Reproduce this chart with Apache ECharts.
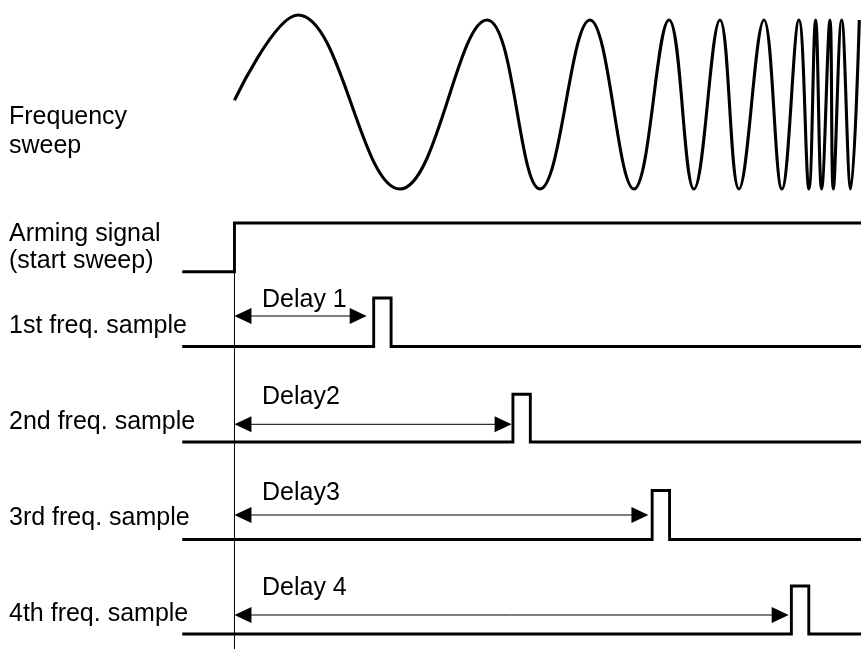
<!DOCTYPE html>
<html><head><meta charset="utf-8">
<script src="https://cdn.jsdelivr.net/npm/echarts@6/dist/echarts.min.js"></script>
<style>html,body{margin:0;padding:0;background:#fff}#c{width:861px;height:649px}</style>
</head><body><div id="c"></div><script>
// ---------------- data (time units: Delay 1 = 10) ----------------
const sweepTimes  = [0, 4.56, 11.89, 18.14, 21.94, 25.53, 28.69, 31.21, 33.0, 34.87, 36.23, 38.03, 39.32, 40.54, 41.26, 41.74, 42.17, 42.77, 43.01, 43.61, 44.26, 44.88];
const sweepLevels = [0.05, 1.06, -1.0, 1.0, -1.0, 1.0, -1.0, 1.0, -1.0, 1.0, -1.0, 1.0, -1.0, 1.0, -1.0, 1.0, -1.0, 1.0, -1.0, 1.0, -1.0, 1.0];
const traceStart = -3.75;
const traceEnd = 45;
const armTime = 0;
const delayTimes = [10, 20, 30, 40];
const pulseWidth = 1.25;
const signalLabels = ['Frequency', 'sweep', 'Arming signal', '(start sweep)', '1st freq. sample', '2nd freq. sample', '3rd freq. sample', '4th freq. sample'];
const delayLabels = ['Delay 1', 'Delay2', 'Delay3', 'Delay 4'];

// ---------------- layout ----------------
const X_MIN = -16.84, X_MAX = 45;
const FONT_FAMILY = 'Liberation Sans, Arial, Helvetica, sans-serif';
const FS = 25;
const MID = 5.5; // baseline -> em-middle offset
const sweepGrid = {top: 20, height: 169};
const armGrid = {top: 223, height: 48.7};
const rowGrids = [{top: 298, height: 48.5}, {top: 394.3, height: 47.7}, {top: 490.5, height: 49}, {top: 586, height: 48}];
const vGrid = {top: 271.7, height: 377.3};
const labelBaselines = [123, 152, 240, 267, 332, 428, 524, 620];
const arrowRise = [30.5, 17.7, 24.5, 19];
const arrowGap = [7, 1.3, 3.7, 2.7];
const delayLabelRise = [40.5, 39.2, 41.3, 40.2];
const delayLabelDx = 27.5;
const HEAD_L = 17, HEAD_W = 8;

const chart = echarts.init(document.getElementById('c'), null, {renderer: 'canvas'});

const grids = [sweepGrid, armGrid].concat(rowGrids).concat([vGrid]).map(g => ({left: 0, right: 0, top: g.top, height: g.height}));
const xAxes = grids.map((g, i) => ({type: 'value', gridIndex: i, min: X_MIN, max: X_MAX, show: false}));
const yAxes = grids.map((g, i) => i === 0 ? {type: 'value', gridIndex: i, min: -1, max: 1, show: false}
                                          : {type: 'value', gridIndex: i, min: 0, max: 1, show: false});

const thick = {color: '#000', width: 2.9, join: 'miter', cap: 'butt'};
const series = [];
series.push({
  type: 'line', xAxisIndex: 0, yAxisIndex: 0, smooth: 0.4, symbol: 'none', silent: true, clip: false,
  data: sweepTimes.map((t, i) => [t, sweepLevels[i]]),
  lineStyle: {color: '#000', width: 3.1}
});
series.push({
  type: 'line', xAxisIndex: 1, yAxisIndex: 1, step: 'end', symbol: 'none', silent: true, clip: false,
  data: [[traceStart, 0], [armTime, 1], [traceEnd, 1]],
  lineStyle: thick
});
delayTimes.forEach((d, i) => {
  series.push({
    type: 'line', xAxisIndex: 2 + i, yAxisIndex: 2 + i, step: 'end', symbol: 'none', silent: true, clip: false,
    data: [[traceStart, 0], [armTime + d, 1], [armTime + d + pulseWidth, 0], [traceEnd, 0]],
    lineStyle: thick
  });
  series.push({
    type: 'custom', xAxisIndex: 2 + i, yAxisIndex: 2 + i, silent: true, clip: false,
    data: [[armTime, armTime + d]],
    renderItem: function (params, api) {
      const p0 = api.coord([api.value(0), 0]);
      const p1 = api.coord([api.value(1), 0]);
      const y = p0[1] - arrowRise[i];
      const xa = p0[0], xb = p1[0] - arrowGap[i];
      return {type: 'group', children: [
        {type: 'line', shape: {x1: xa + HEAD_L - 2, y1: y, x2: xb - HEAD_L + 2, y2: y}, style: {stroke: '#000', lineWidth: 1}},
        {type: 'polygon', shape: {points: [[xa, y], [xa + HEAD_L, y - HEAD_W], [xa + HEAD_L, y + HEAD_W]]}, style: {fill: '#000'}},
        {type: 'polygon', shape: {points: [[xb, y], [xb - HEAD_L, y - HEAD_W], [xb - HEAD_L, y + HEAD_W]]}, style: {fill: '#000'}},
        {type: 'text', style: {text: delayLabels[i], x: xa + delayLabelDx, y: p0[1] - delayLabelRise[i] - MID,
          fontFamily: FONT_FAMILY, fontSize: FS, fill: '#000', verticalAlign: 'middle', align: 'left'}}
      ]};
    }
  });
});
series.push({
  type: 'line', xAxisIndex: 6, yAxisIndex: 6, symbol: 'none', silent: true, clip: false,
  data: [[armTime, 0], [armTime, 1]],
  lineStyle: {color: '#000', width: 1}
});

const graphic = signalLabels.map((s, i) => ({
  type: 'text', x: 9, y: labelBaselines[i] - MID, silent: true,
  style: {text: s, fontFamily: FONT_FAMILY, fontSize: FS, fill: '#000', verticalAlign: 'middle', align: 'left'}
}));

chart.setOption({
  animation: false,
  backgroundColor: '#fff',
  grid: grids, xAxis: xAxes, yAxis: yAxes,
  series: series,
  graphic: graphic
});
</script></body></html>
